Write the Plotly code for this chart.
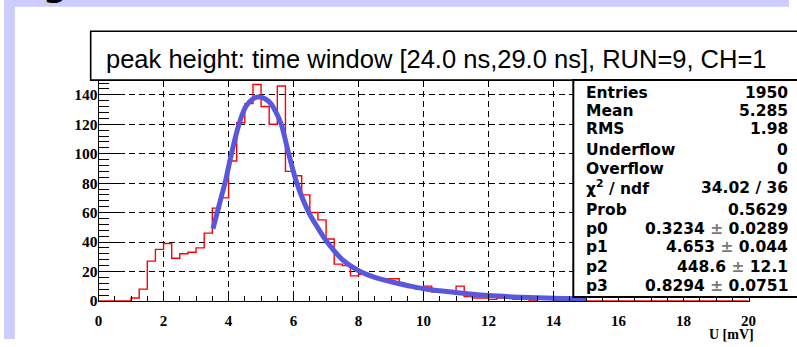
import plotly.graph_objects as go

W, H = 797, 347

# Peak-height histogram: 0.25 mV bins covering 0-20 mV
bin_width = 0.25
counts = [0, 0, 0, 0, 2, 8, 27, 35, 39, 29, 32, 33, 36, 46, 63, 70,
          95, 121, 134, 147, 132, 120, 146, 88, 85, 72, 60, 55, 42, 25, 24, 17,
          18, 17, 15, 15, 15, 11, 9, 8, 10, 6, 6, 7, 10, 3, 2, 2,
          1, 2, 2, 1, 1, 0, 1, 1, 0, 0, 1, 0] + [0] * 20

# Fitted curve (fit range 3.5-15 mV)
fit_x = [3.52, 3.65, 3.78, 3.89, 4.09, 4.32, 4.53, 4.75, 4.94, 5.12, 5.30, 5.45,
         5.62, 5.85, 6.10, 6.47, 6.75, 7.00, 7.50, 8.00, 8.50, 9.00, 9.50, 10.0,
         10.5, 11.0, 12.0, 13.0, 14.0, 15.0]
fit_y = [49, 60, 71, 80, 100, 120, 132, 137.3, 138.5, 137.3, 134, 128.5,
         120, 100, 80, 60, 49.5, 41, 28, 20.5, 16, 13, 10.5, 8.3,
         6.9, 5.7, 3.6, 2.5, 1.8, 1.3]

stat_labels = ["Entries", "Mean", "RMS", "Underflow", "Overflow", "χ<sup>2</sup> / ndf",
               "Prob", "p0", "p1", "p2", "p3"]
stat_values = ["1950", "5.285", "1.98", "0", "0", "34.02 / 36", "0.5629",
               "0.3234 ± 0.0289", "4.653 ± 0.044", "448.6 ± 12.1", "0.8294 ± 0.0751"]
stat_rows_px = [95, 114, 132, 154, 173, 192, 215, 234, 253, 273, 293]

title_text = "peak height: time window [24.0 ns,29.0 ns], RUN=9, CH=1"
x_title = "U [mV]"


def px(x):
    return x / W


def py(y):
    return 1 - y / H


edges = [i * bin_width for i in range(len(counts) + 1)]
hist_x = edges
hist_y = counts + [counts[-1]]

fig = go.Figure()
fig.add_trace(go.Scatter(x=hist_x, y=hist_y, mode="lines", line_shape="hv",
                         line=dict(color="#ff0000", width=1.4), hoverinfo="skip"))
fig.add_trace(go.Scatter(x=fit_x, y=fit_y, mode="lines", line_shape="spline",
                         line=dict(color="rgb(88,88,222)", width=5, smoothing=0.9),
                         hoverinfo="skip"))

grid_dash = "6px,4px"
fig.update_xaxes(
    range=[0, 20], domain=[px(96), px(756)],
    dtick=2, tick0=0, ticks="inside", ticklen=7, tickcolor="black", tickwidth=1,
    showline=True, linecolor="black", linewidth=1, mirror=True,
    showgrid=True, gridcolor="black", gridwidth=1, griddash=grid_dash,
    zeroline=False, ticklabelstandoff=6,
    minor=dict(dtick=0.5, ticks="inside", ticklen=5, tickcolor="black", showgrid=False),
    tickfont=dict(family="Liberation Serif", size=15, color="black", weight="bold"),
)
fig.update_yaxes(
    range=[0, 149.5], domain=[py(308), py(82.7)],
    dtick=20, tick0=0, ticks="inside", ticklen=20, tickcolor="black", tickwidth=1,
    showline=True, linecolor="black", linewidth=1, mirror=True,
    showgrid=True, gridcolor="black", gridwidth=1, griddash=grid_dash,
    zeroline=False, ticklabelstandoff=-3,
    minor=dict(dtick=4, ticks="inside", ticklen=10, tickcolor="black", showgrid=False),
    tickfont=dict(family="Liberation Serif", size=15.5, color="black", weight="bold"),
)

shapes = [
    # lavender window border
    dict(type="rect", xref="paper", yref="paper", x0=0, x1=1, y0=py(7), y1=1,
         fillcolor="#ccccff", line=dict(width=0), layer="above"),
    dict(type="rect", xref="paper", yref="paper", x0=0, x1=px(11), y0=0, y1=1,
         fillcolor="#ccccff", line=dict(width=0), layer="above"),
    # title box
    dict(type="rect", xref="paper", yref="paper", x0=px(88), x1=px(820), y0=py(82), y1=py(32),
         fillcolor="white", line=dict(color="black", width=1.6), layer="above"),
    # statistics box
    dict(type="rect", xref="paper", yref="paper", x0=px(578), x1=px(820), y0=py(304), y1=py(82),
         fillcolor="white", line=dict(color="black", width=2), layer="above"),
]

annotations = [
    dict(text=title_text, xref="paper", yref="paper", x=px(102), y=py(60),
         xanchor="left", yanchor="middle", showarrow=False,
         font=dict(family="Liberation Sans", size=25.5, color="black")),
    dict(text=x_title, xref="paper", yref="paper", x=px(762), y=py(342),
         xanchor="right", yanchor="middle", borderpad=0, showarrow=False,
         font=dict(family="Liberation Serif", size=14, color="black", weight="bold")),
    dict(text="g", xref="paper", yref="paper", x=px(52), y=py(6),
         xanchor="center", yanchor="bottom", showarrow=False,
         font=dict(family="DejaVu Sans", size=34, color="black", weight="bold")),
]
for lab, val, ypix in zip(stat_labels, stat_values, stat_rows_px):
    val = val.replace("±", "<span style='color:#777'>±</span>")
    annotations.append(dict(text=lab, xref="paper", yref="paper", x=px(589), y=py(ypix),
                            xanchor="left", yanchor="middle", showarrow=False,
                            font=dict(family="DejaVu Sans", size=15.5, color="black", weight="bold")))
    annotations.append(dict(text=val, xref="paper", yref="paper", x=px(798), y=py(ypix),
                            xanchor="right", yanchor="middle", showarrow=False,
                            font=dict(family="DejaVu Sans", size=15.5, color="black", weight="bold")))

fig.update_layout(
    width=W, height=H, margin=dict(l=0, r=0, t=0, b=0),
    paper_bgcolor="white", plot_bgcolor="white",
    showlegend=False, shapes=shapes, annotations=annotations,
)

fig.write_html("out.html", config={"displayModeBar": False})
